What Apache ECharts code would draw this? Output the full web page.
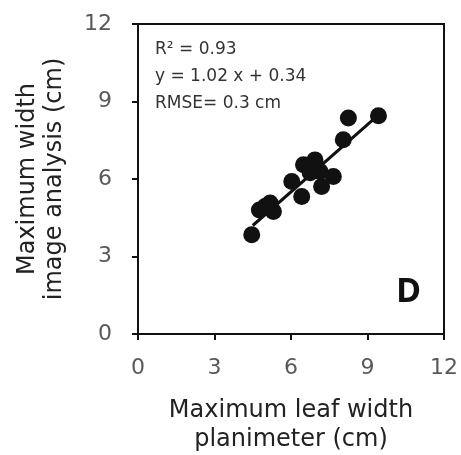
<!DOCTYPE html>
<html><head><meta charset="utf-8">
<script src="https://cdn.jsdelivr.net/npm/echarts@6/dist/echarts.min.js"></script>
<style>html,body{margin:0;padding:0;background:#fff}#c{width:461px;height:455px}</style>
</head><body><div id="c"></div>
<script>
const planimeter = [4.46, 4.76, 5.18, 5.31, 5.0, 6.03, 6.42, 6.49, 6.94, 6.75, 7.2, 7.66, 7.14, 8.05, 8.25, 9.43];
const imageAnalysis = [3.84, 4.8, 5.07, 4.74, 4.95, 5.9, 5.32, 6.55, 6.74, 6.24, 5.71, 6.1, 6.29, 7.52, 8.36, 8.45];
const fitLine = [[4.5, 4.2], [9.4, 8.45]];
const ticks = [0, 3, 6, 9, 12];
const statsLines = ['R² = 0.93', 'y = 1.02 x + 0.34', 'RMSE= 0.3 cm'];
const panelLabel = 'D';
const xTitle = 'Maximum leaf width\nplanimeter (cm)';
const yTitle = 'Maximum width\nimage analysis (cm)';

const FONT = 'DejaVu Sans';
const chart = echarts.init(document.getElementById('c'), null, {renderer: 'canvas'});
const pts = planimeter.map((x, i) => [x, imageAnalysis[i]]);
const axisCommon = {
  min: ticks[0], max: ticks[ticks.length - 1], interval: 3,
  axisLine: {show: true, lineStyle: {color: '#111', width: 2}},
  axisTick: {show: true, inside: false, length: 6, lineStyle: {color: '#111', width: 2}},
  splitLine: {show: false},
  axisLabel: {color: '#595959', fontSize: 22, fontFamily: FONT},
  nameLocation: 'middle',
  nameTextStyle: {color: '#222', fontSize: 24, fontFamily: FONT, lineHeight: 29}
};
chart.setOption({
  animation: false,
  grid: {left: 138, right: 17, top: 24, bottom: 121, containLabel: false, outerBoundsMode: 'none',
    show: true, borderColor: '#111', borderWidth: 2},
  xAxis: Object.assign({}, axisCommon, {type: 'value', name: xTitle, nameGap: 62,
    axisLabel: Object.assign({}, axisCommon.axisLabel, {margin: 23})}),
  yAxis: Object.assign({}, axisCommon, {type: 'value', name: yTitle, nameGap: 70,
    nameTextStyle: Object.assign({}, axisCommon.nameTextStyle, {lineHeight: 27}),
    axisLabel: Object.assign({}, axisCommon.axisLabel, {margin: 26})}),
  series: [
    {type: 'line', data: fitLine, symbol: 'none', lineStyle: {color: '#111', width: 3}, z: 2},
    {type: 'scatter', data: pts, symbolSize: 17, itemStyle: {color: '#111', opacity: 1}, z: 3}
  ],
  graphic: [
    {type: 'text', left: 155, top: 36, style: {text: statsLines.join('\n'), fill: '#333', font: '17px "DejaVu Sans"', lineHeight: 27}},
    {type: 'text', left: 396, top: 275, style: {text: panelLabel, fill: '#111', font: 'bold 34px "Open Sans"'}}
  ]
});
</script></body></html>
